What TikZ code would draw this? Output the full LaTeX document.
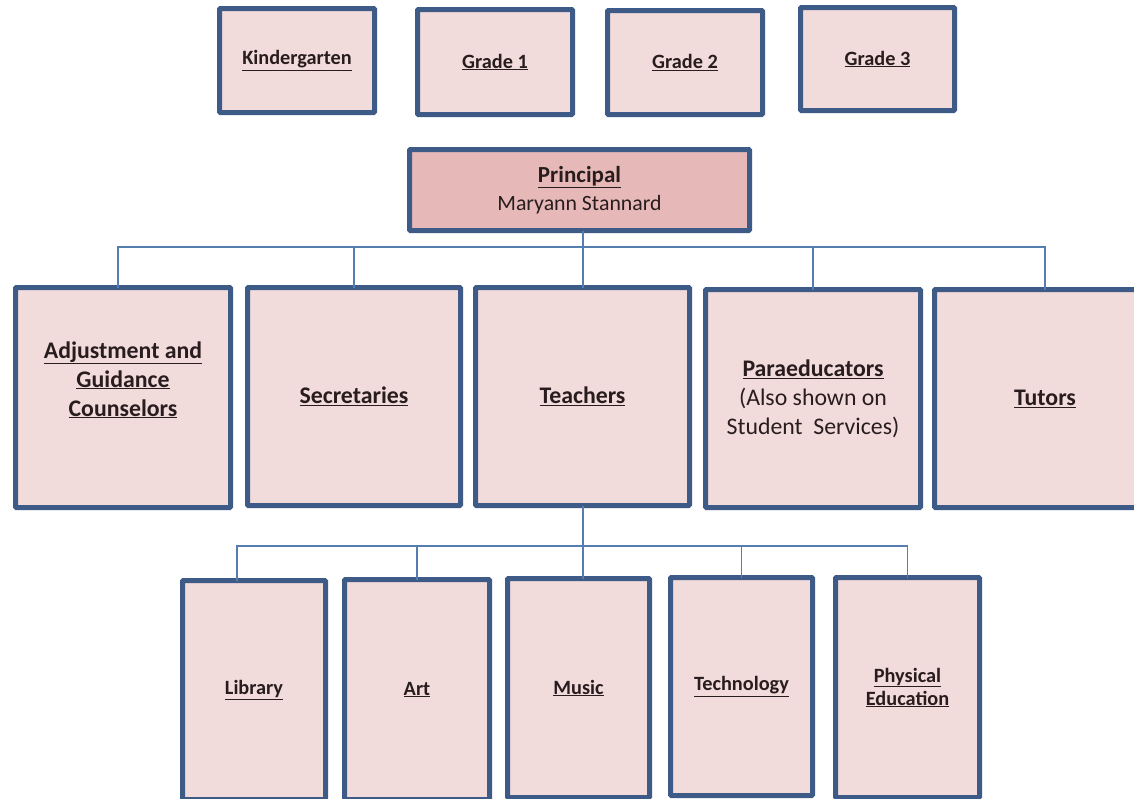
\documentclass[tikz,border=0pt]{standalone}
\usepackage{fontspec}
\setmainfont{Carlito}
\definecolor{boxline}{RGB}{62,90,135}
\definecolor{boxfill}{RGB}{242,220,219}
\definecolor{headfill}{RGB}{230,185,184}
\definecolor{linkline}{RGB}{85,125,175}
\definecolor{ink}{RGB}{40,28,30}
\newcommand{\ul}[1]{\underline{#1}}
\tikzset{
  orgbox/.style={draw=boxline, line width=5pt, fill=boxfill, rounded corners=1pt,
    outer sep=0pt, inner sep=0pt, align=center, text=ink},
  smallbox/.style={orgbox, font=\bfseries\fontsize{20.3}{23}\selectfont},
  bigbox/.style={orgbox, font=\bfseries\fontsize{23.8}{29}\selectfont},
  headbox/.style={orgbox, fill=headfill, font=\fontsize{21.8}{28}\selectfont},
  conn/.style={draw=linkline, line width=1.3pt},
}
\begin{document}
\begin{tikzpicture}[x=1pt, y=-1pt]
\useasboundingbox[fill=white] (0,0) rectangle (1134,798);
\begin{scope}
\clip (0,0) rectangle (1134,798);
% grade level boxes
\node[smallbox, minimum width=155pt, minimum height=104pt] (kg) at (297,60.5) {\ul{Kindergarten}};
\node[smallbox, minimum width=155pt, minimum height=105pt] (g1) at (495,62) {\ul{Grade 1}};
\node[smallbox, minimum width=155pt, minimum height=104pt] (g2) at (685,62.5) {\ul{Grade 2}};
\node[smallbox, minimum width=154pt, minimum height=103pt] (g3) at (877.5,59) {\ul{Grade 3}};
% principal
\node[headbox, minimum width=340pt, minimum height=81pt] (prin) at (579.5,190)
  {{\bfseries\fontsize{23}{28}\selectfont\ul{Principal}}\\Maryann Stannard};
% staff groups
\node[bigbox, minimum width=215pt, minimum height=220pt] (adj) at (123,397.5)
  {\ul{Adjustment and}\\\ul{Guidance}\\\ul{Counselors}\\\strut};
\node[bigbox, minimum width=213pt, minimum height=218pt] (sec) at (354,396.5) {\ul{Secretaries}};
\node[bigbox, minimum width=214pt, minimum height=218pt] (tea) at (582.5,396.5) {\ul{Teachers}};
\node[bigbox, minimum width=215pt, minimum height=218pt] (par) at (813,398.5)
  {\ul{Paraeducators}\\\mdseries(Also shown on\\\mdseries Student\ \ Services)};
\node[bigbox, minimum width=221pt, minimum height=218pt] (tut) at (1045,398.5) {\ul{Tutors}};
% specialist areas
\node[smallbox, minimum width=143pt, minimum height=219pt] (lib) at (254,690) {\ul{Library}};
\node[smallbox, minimum width=145pt, minimum height=220pt] (art) at (417,689.5) {\ul{Art}};
\node[smallbox, minimum width=142pt, minimum height=219pt] (mus) at (578.5,688) {\ul{Music}};
\node[smallbox, minimum width=142pt, minimum height=218pt] (tec) at (741.5,686.5) {\ul{Technology}};
\node[smallbox, minimum width=144pt, minimum height=220pt] (pe) at (907.5,687.5)
  {\ul{Physical}\\\ul{Education}};
\end{scope}
% bus heights
\coordinate (bus1) at (0,247);
\coordinate (bus2) at (0,546);
% principal to staff groups
\draw[conn] ([xshift=3.5pt]prin.south) -- ([xshift=3.5pt]prin.south |- bus1);
\draw[conn] ([xshift=-5pt]adj.north) |- (tut.north |- bus1) -- (tut.north);
\draw[conn] (sec.north) -- (sec.north |- bus1);
\draw[conn] ([xshift=0.5pt]tea.north) -- ([xshift=0.5pt]tea.north |- bus1);
\draw[conn] (par.north) -- (par.north |- bus1);
% teachers to specialist areas
\draw[conn] ([xshift=0.5pt]tea.south) -- ([xshift=0.5pt]tea.south |- bus2);
\draw[conn] ([xshift=-17pt]lib.north) |- (pe.north |- bus2) -- (pe.north);
\draw[conn] (art.north) -- (art.north |- bus2);
\draw[conn] ([xshift=4.5pt]mus.north) -- ([xshift=4.5pt]mus.north |- bus2);
\draw[conn] (tec.north) -- (tec.north |- bus2);
\end{tikzpicture}
\end{document}
